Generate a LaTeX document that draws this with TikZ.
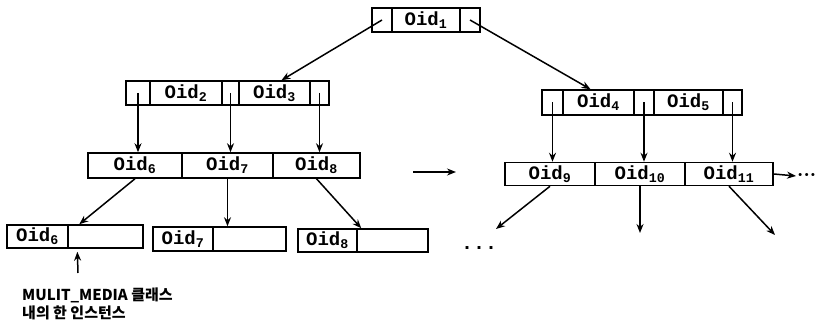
\documentclass[tikz,border=0pt]{standalone}
\usepackage{fontspec}
\setmainfont{Liberation Mono}
\newfontfamily\krfont{Noto Sans CJK KR}
\usetikzlibrary{arrows.meta,positioning}
\newcommand{\oid}[1]{Oid\textsubscript{#1}}

\begin{document}
\begin{tikzpicture}[x=1pt,y=-1pt,
cell/.style={draw,line width=1.5pt,inner sep=0pt,minimum height=24pt,font=\fontsize{19}{20}\selectfont\bfseries}]
\useasboundingbox (0,0) rectangle (818,328);
% root
\node[cell,minimum width=20pt] (T1) at (382,20) {};
\node[cell,minimum width=68pt] (T) at (426,20) {\oid{1}};
\node[cell,minimum width=20pt] (T2) at (470,20) {};
% second level
\node[cell,minimum width=24pt] (A1) at (138,93) {};
\node[cell,minimum width=72pt] (A) at (186,93) {\oid{2}};
\node[cell,minimum width=17pt] (A2) at (230.5,93) {};
\node[cell,minimum width=71pt] (B) at (274.5,93) {\oid{3}};
\node[cell,minimum width=19pt] (A3) at (319.5,93) {};
\node[cell,minimum width=21pt,minimum height=25pt] (C1) at (552.5,102.5) {};
\node[cell,minimum width=71pt,minimum height=25pt] (C) at (598.5,102.5) {\oid{4}};
\node[cell,minimum width=20pt,minimum height=25pt] (C2) at (644,102.5) {};
\node[cell,minimum width=69pt,minimum height=25pt] (D) at (688.5,102.5) {\oid{5}};
\node[cell,minimum width=19pt,minimum height=25pt] (C3) at (732.5,102.5) {};
% leaves
\node[cell,minimum width=94pt,minimum height=25pt] (E6) at (135,165.5) {\oid{6}};
\node[cell,minimum width=91pt,minimum height=25pt] (E7) at (227.5,165.5) {\oid{7}};
\node[cell,minimum width=87pt,minimum height=25pt] (E8) at (316.5,165.5) {\oid{8}};
\node[cell,minimum width=90pt,minimum height=23pt] (F9) at (550,174) {\oid{9}};
\node[cell,minimum width=90pt,minimum height=23pt] (F10) at (640,174) {\oid{10}};
\node[cell,minimum width=88pt,minimum height=23pt] (F11) at (729,174) {\oid{11}};
% instances
\node[cell,minimum width=61pt,minimum height=23pt] (G6) at (37.5,236.5) {\oid{6}};
\node[cell,minimum width=75pt,minimum height=23pt] (G6b) at (105.5,236.5) {};
\node[cell,minimum width=60pt] (H7) at (183,239) {\oid{7}};
\node[cell,minimum width=73pt] (H7b) at (249.5,239) {};
\node[cell,minimum width=59pt,minimum height=23pt] (K8) at (327.5,240.5) {\oid{8}};
\node[cell,minimum width=71pt,minimum height=23pt] (K8b) at (392.5,240.5) {};
\node[font=\fontsize{20}{20}\selectfont\bfseries,anchor=base] (dots1) at (479,250) {...};
\node[font=\fontsize{10.5}{11}\selectfont\bfseries,anchor=west,inner sep=0pt] (dots2) at (797,176) {•••};
\node[anchor=north west,align=left,inner sep=0pt,font=\krfont\bfseries\fontsize{15}{18}\selectfont] (N) at (22,288) {MULIT\_MEDIA 클래스\\내의 한 인스턴스};
\coordinate (m1) at (413,172);
\coordinate (m2) at (456,172);
\coordinate (r9) at (496,229);
\coordinate (r10) at (640,233);
\coordinate (r11) at (775,235);
\coordinate (n1) at (78,273);
\path[->,line width=1.5pt,>={Stealth[length=9pt,width=7pt]}]
(T1.center) edge ([xshift=7pt]B.north)
(T2.center) edge ([xshift=-8pt]C.north)
(A1.center) edge (A1.center |- E6.north)
(A2.center) edge (A2.center |- E7.north)
(A3.center) edge (A3.center |- E8.north)
(C1.center) edge (C1.center |- F9.north)
(C2.center) edge (C2.center |- F10.north)
(C3.center) edge (C3.center |- F11.north)
(E6.south) edge ([xshift=12pt]G6b.north west)
(E7.south) edge (E7.south |- H7b.north)
(E8.south) edge ([xshift=5pt]K8b.north west)
(F9.south) edge (r9)
(F10.south) edge (r10)
(F11.south) edge (r11)
(m1) edge (m2)
(F11.east) edge ([xshift=-1pt]dots2.west)
(n1) edge[shorten >=3pt] ([xshift=10pt]G6b.south west);
\end{tikzpicture}
\end{document}
